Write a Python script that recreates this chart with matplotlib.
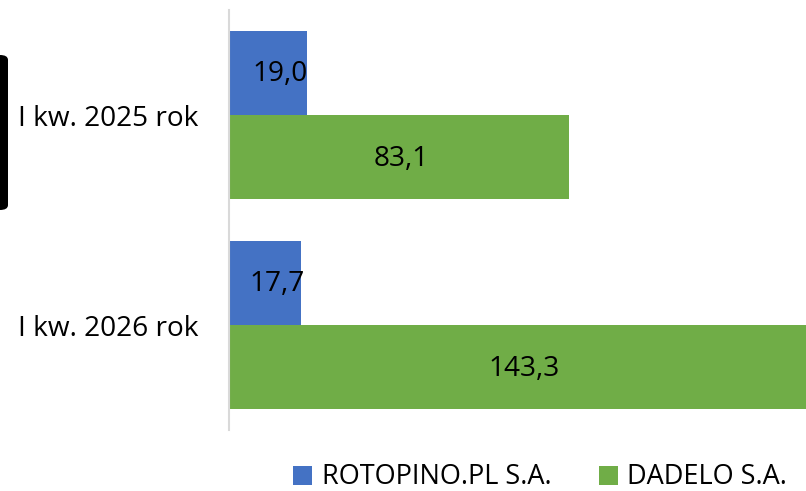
import numpy as np
import matplotlib.pyplot as plt
from matplotlib.patches import Patch, FancyBboxPatch

categories = ['I kw. 2025 rok', 'I kw. 2026 rok']
series_names = ['ROTOPINO.PL S.A.', 'DADELO S.A.']
rotopino = [19.0, 17.7]
dadelo = [83.1, 143.3]

colors = ['#4472C4', '#70AD47']
plt.rcParams['font.family'] = ['Open Sans', 'DejaVu Sans']

fig = plt.figure(figsize=(8.06, 4.91), dpi=100)
ax = fig.add_axes([229 / 806, 1 - 430 / 491, 1 - 229 / 806, 420 / 491])

y = np.arange(len(categories))
h = 0.402
offsets = [-h / 2, h / 2]
label_shift = [12, 2]  # px nudge of data labels, as in the source

for vals, off, col, name, shift in zip([rotopino, dadelo], offsets, colors, series_names, label_shift):
    bars = ax.barh(y + off, vals, height=h, color=col, label=name)
    for b, v in zip(bars, vals):
        ax.annotate(f"{v:.1f}".replace('.', ','),
                    (b.get_width() / 2, b.get_y() + b.get_height() / 2),
                    xytext=(shift * 0.72, -1), textcoords='offset points',
                    ha='center', va='center', fontsize=20.2, color='black')

ax.set_xlim(0, (806 - 229) / 4.09)
ax.set_ylim(1.5, -0.5)
ax.set_yticks(y)
ax.set_yticklabels(categories, fontsize=20.2)
ax.tick_params(axis='y', length=0, pad=22)
ax.set_xticks([])
for s in ['top', 'right', 'bottom']:
    ax.spines[s].set_visible(False)
ax.spines['left'].set_color('#d9d9d9')
ax.spines['left'].set_linewidth(1.5)

handles = [Patch(facecolor=c, label=n) for c, n in zip(colors, series_names)]
fig.legend(handles=handles, loc='center', bbox_to_anchor=(540 / 806, 1 - 477.5 / 491),
           ncol=2, frameon=False, fontsize=19.5, handlelength=0.7, handleheight=0.7,
           handletextpad=0.35, columnspacing=1.75, borderpad=0)

# dark edge of a cropped shape at the left border
fig.patches.append(FancyBboxPatch((-12 / 806, 1 - 210 / 491), 20 / 806, 155 / 491,
                                  boxstyle='round,pad=0,rounding_size=0.01',
                                  transform=fig.transFigure, facecolor='black',
                                  edgecolor='none'))

fig.savefig('out.png', dpi=100)
